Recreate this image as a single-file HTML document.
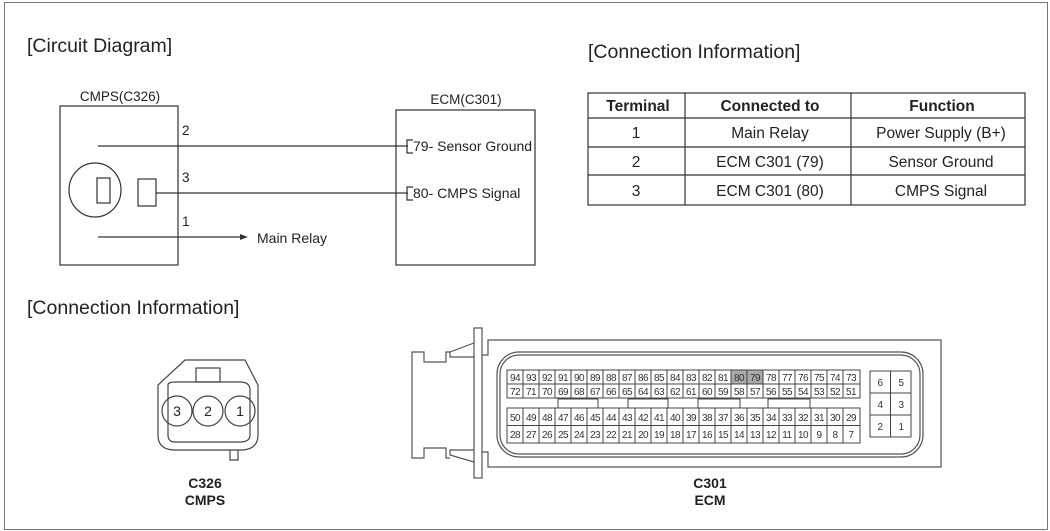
<!DOCTYPE html>
<html><head><meta charset="utf-8"><style>
html,body{margin:0;padding:0;background:#fff}
svg{display:block;font-family:"Liberation Sans",Arial,sans-serif}
</style></head><body>
<svg width="1050" height="531" viewBox="0 0 1050 531" xmlns="http://www.w3.org/2000/svg">
<rect x="4.5" y="2.5" width="1043" height="527" fill="#fff" stroke="#777" stroke-width="1"/>
<g fill="#222">
<text x="27" y="52" font-size="19.5">[Circuit Diagram]</text>
<text x="588" y="58" font-size="19.5">[Connection Information]</text>
<text x="27" y="314" font-size="19.5">[Connection Information]</text>
</g>
<!-- circuit -->
<g stroke="#333" fill="none" stroke-width="1.2">
<rect x="60" y="106" width="118" height="159"/>
<rect x="396" y="110" width="139" height="155"/>
<line x1="98" y1="146" x2="408" y2="146"/>
<line x1="156" y1="193" x2="408" y2="193"/>
<line x1="98" y1="237" x2="240" y2="237"/>
<ellipse cx="95" cy="190" rx="26" ry="27"/>
<rect x="97" y="178" width="13" height="25"/>
<rect x="138" y="179" width="18" height="27"/>
<path d="M413 140 H407 V153 H413"/>
<path d="M413 187 H407 V200 H413"/>
</g>
<polygon points="240,234 248,237 240,240" fill="#333"/>
<g fill="#222" font-size="13.5">
<text x="120" y="101" text-anchor="middle">CMPS(C326)</text>
<text x="466" y="104" text-anchor="middle">ECM(C301)</text>
<text x="182" y="135">2</text>
<text x="182" y="182">3</text>
<text x="182" y="226">1</text>
<text x="413" y="151" font-size="14">79- Sensor Ground</text>
<text x="413" y="198" font-size="14">80- CMPS Signal</text>
<text x="257" y="243" font-size="14">Main Relay</text>
</g>
<!-- table -->
<g stroke="#333" stroke-width="1.2" fill="none">
<rect x="588" y="93" width="437" height="112"/>
<line x1="588" y1="118" x2="1025" y2="118"/>
<line x1="588" y1="147" x2="1025" y2="147"/>
<line x1="588" y1="175" x2="1025" y2="175"/>
<line x1="685" y1="93" x2="685" y2="205"/>
<line x1="851" y1="93" x2="851" y2="205"/>
</g>
<g fill="#222" font-size="15.5" text-anchor="middle">
<text x="638" y="111" font-weight="bold" font-size="15.5">Terminal</text>
<text x="770" y="111" font-weight="bold" font-size="15.5">Connected to</text>
<text x="942" y="111" font-weight="bold" font-size="15.5">Function</text>
<text x="636" y="138">1</text><text x="770" y="138">Main Relay</text><text x="941" y="138">Power Supply (B+)</text>
<text x="636" y="167">2</text><text x="770" y="167">ECM C301 (79)</text><text x="941" y="167">Sensor Ground</text>
<text x="636" y="196">3</text><text x="770" y="196">ECM C301 (80)</text><text x="941" y="196">CMPS Signal</text>
</g>
<!-- C326 connector -->
<g stroke="#444" stroke-width="1.2" fill="none">
<path d="M185 360 H245 L258 385 V435 Q258 450 240 450 H175 Q158 450 158 435 V385 Z"/>
<path d="M168 385 Q168 382 175 382 H240 Q250 382 250 390 V435 Q250 442 240 442 H175 Q168 442 168 435 Z"/>
<rect x="196" y="368" width="24" height="14"/>
<path d="M230 450 V460 H238 V450"/>
<circle cx="177" cy="411" r="15"/>
<circle cx="208" cy="411" r="15"/>
<circle cx="240" cy="411" r="15"/>
</g>
<g fill="#222" font-size="14" text-anchor="middle">
<text x="177" y="416">3</text><text x="208" y="416">2</text><text x="240" y="416">1</text>
<text x="205" y="488" font-weight="bold" font-size="14">C326</text>
<text x="205" y="505" font-weight="bold" font-size="14">CMPS</text>
<text x="710" y="488" font-weight="bold" font-size="14">C301</text>
<text x="710" y="505" font-weight="bold" font-size="14">ECM</text>
</g>
<!-- C301 connector -->
<g stroke="#555" stroke-width="1.2" fill="none">
<rect x="474" y="328" width="8" height="150"/>
<path d="M482 355 H488 V340 H941 V467 H488 V452 H482"/>
<rect x="497" y="352" width="426" height="105" rx="22"/>
<rect x="500" y="355" width="420" height="99" rx="19"/>
<path d="M474 343 L450 352 V357 L474 357"/>
<path d="M474 462 L450 455 V450 L474 450"/>
<path d="M450 352 H446 V362 H424 V352 H412 V458 H424 V448 H446 V458 H450"/>
</g>
<rect x="731" y="370" width="32" height="14" fill="#aaa"/>
<g stroke="#444" stroke-width="1" fill="none">
<rect x="507" y="370" width="353" height="28"/>
<line x1="507" y1="384" x2="860" y2="384"/>
<rect x="507" y="408" width="353" height="35"/>
<line x1="507" y1="425.5" x2="860" y2="425.5"/>
<path d="M523 370V398M539 370V398M555 370V398M571 370V398M587 370V398M603 370V398M619 370V398M635 370V398M651 370V398M667 370V398M683 370V398M699 370V398M715 370V398M731 370V398M747 370V398M763 370V398M779 370V398M795 370V398M811 370V398M827 370V398M843 370V398"/>
<path d="M523 408V443M539 408V443M555 408V443M571 408V443M587 408V443M603 408V443M619 408V443M635 408V443M651 408V443M667 408V443M683 408V443M699 408V443M715 408V443M731 408V443M747 408V443M763 408V443M779 408V443M795 408V443M811 408V443M827 408V443M843 408V443"/>
<rect x="558" y="399" width="40" height="9"/>
<rect x="628" y="399" width="40" height="9"/>
<rect x="698" y="399" width="42" height="9"/>
<rect x="768" y="399" width="42" height="9"/>
<rect x="870" y="371" width="41" height="66"/>
<line x1="890.5" y1="371" x2="890.5" y2="437"/>
<line x1="870" y1="393" x2="911" y2="393"/>
<line x1="870" y1="415" x2="911" y2="415"/>
</g>
<g fill="#333" font-size="10" text-anchor="middle" letter-spacing="-0.5">
<text x="515" y="381">94</text><text x="531" y="381">93</text><text x="547" y="381">92</text><text x="563" y="381">91</text><text x="579" y="381">90</text><text x="595" y="381">89</text><text x="611" y="381">88</text><text x="627" y="381">87</text><text x="643" y="381">86</text><text x="659" y="381">85</text><text x="675" y="381">84</text><text x="691" y="381">83</text><text x="707" y="381">82</text><text x="723" y="381">81</text><text x="739" y="381">80</text><text x="755" y="381">79</text><text x="771" y="381">78</text><text x="787" y="381">77</text><text x="803" y="381">76</text><text x="819" y="381">75</text><text x="835" y="381">74</text><text x="851" y="381">73</text>
<text x="515" y="395">72</text><text x="531" y="395">71</text><text x="547" y="395">70</text><text x="563" y="395">69</text><text x="579" y="395">68</text><text x="595" y="395">67</text><text x="611" y="395">66</text><text x="627" y="395">65</text><text x="643" y="395">64</text><text x="659" y="395">63</text><text x="675" y="395">62</text><text x="691" y="395">61</text><text x="707" y="395">60</text><text x="723" y="395">59</text><text x="739" y="395">58</text><text x="755" y="395">57</text><text x="771" y="395">56</text><text x="787" y="395">55</text><text x="803" y="395">54</text><text x="819" y="395">53</text><text x="835" y="395">52</text><text x="851" y="395">51</text>
<text x="515" y="421">50</text><text x="531" y="421">49</text><text x="547" y="421">48</text><text x="563" y="421">47</text><text x="579" y="421">46</text><text x="595" y="421">45</text><text x="611" y="421">44</text><text x="627" y="421">43</text><text x="643" y="421">42</text><text x="659" y="421">41</text><text x="675" y="421">40</text><text x="691" y="421">39</text><text x="707" y="421">38</text><text x="723" y="421">37</text><text x="739" y="421">36</text><text x="755" y="421">35</text><text x="771" y="421">34</text><text x="787" y="421">33</text><text x="803" y="421">32</text><text x="819" y="421">31</text><text x="835" y="421">30</text><text x="851" y="421">29</text>
<text x="515" y="438">28</text><text x="531" y="438">27</text><text x="547" y="438">26</text><text x="563" y="438">25</text><text x="579" y="438">24</text><text x="595" y="438">23</text><text x="611" y="438">22</text><text x="627" y="438">21</text><text x="643" y="438">20</text><text x="659" y="438">19</text><text x="675" y="438">18</text><text x="691" y="438">17</text><text x="707" y="438">16</text><text x="723" y="438">15</text><text x="739" y="438">14</text><text x="755" y="438">13</text><text x="771" y="438">12</text><text x="787" y="438">11</text><text x="803" y="438">10</text><text x="819" y="438">9</text><text x="835" y="438">8</text><text x="851" y="438">7</text>
<text x="880" y="386">6</text><text x="901" y="386">5</text>
<text x="880" y="408">4</text><text x="901" y="408">3</text>
<text x="880" y="430">2</text><text x="901" y="430">1</text>
</g>
</svg>
</body></html>
